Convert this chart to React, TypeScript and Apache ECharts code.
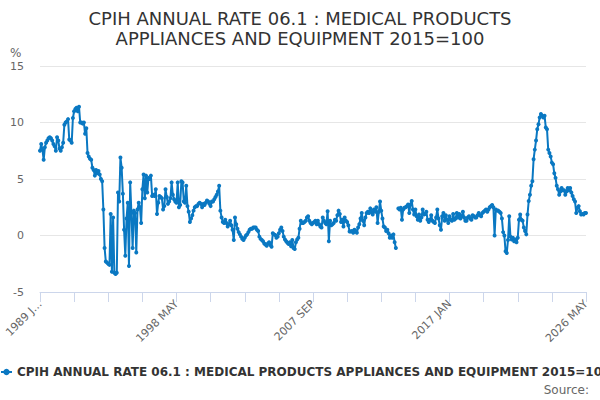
import React, { useEffect, useRef } from "react";
import * as echarts from "echarts";

const titleText = "CPIH ANNUAL RATE 06.1 : MEDICAL PRODUCTS\nAPPLIANCES AND EQUIPMENT 2015=100";
const seriesName = "CPIH ANNUAL RATE 06.1 : MEDICAL PRODUCTS APPLIANCES AND EQUIPMENT 2015=100";
const monthNames = ["JAN", "FEB", "MAR", "APR", "MAY", "JUN", "JUL", "AUG", "SEP", "OCT", "NOV", "DEC"];
const startYear = 1989;
const yTicks = { min: -5, max: 15, interval: 5 };

// monthly annual rate (%), Jan 1989 .. May 2026
const rateValues: (number | null)[] = [
  7.5, 8.1, 7.6, 6.7, 7.8, 8.2, 8.4, 8.6, 8.7, 8.6, 8.4, 8.1,
  7.9, 7.5, 8.7, 8.4, 7.7, 7.5, 7.8, 8.2, 9.8, 10.0, 10.1, 10.3,
  8.5, 8.4, 8.2, 10.4, 11.0, 11.2, 11.3, 11.0, 11.4, 10.0, 10.0, 9.9,
  10.0, 9.0, 9.5, 7.3, 7.0, 6.8, 6.7, 6.0, 5.8, 5.3, 5.8, 5.5,
  5.7, 5.4, 5.0, 4.8, 2.3, -1.1, -2.3, -2.4, -2.5, -2.6, 1.9, -3.2,
  1.6, -3.3, -3.4, -3.3, 3.8, 3.0, 6.9, 6.0, 3.7, 0.5, -1.8, 1.5,
  2.9, -2.7, 4.7, 2.0, -1.1, 2.2, 2.0, -1.5, 2.3, 2.9, 2.5, 1.1,
  4.1, 5.4, 3.3, 5.3, 3.8, 5.1, 5.0, 5.3, 3.5, 3.6, 3.5, 4.1,
  1.9, 2.9, 3.5, 3.4, 3.3, 2.3, 2.6, 4.1, 3.4, 2.8, 3.0, 3.3,
  4.7, 3.6, 3.2, 3.0, 2.9, 4.7, 2.5, 2.7, 4.8, 4.7, 3.0, 2.9,
  4.4, 2.6, 2.1, 1.2, 1.5, 1.8, 2.2, 2.5, 2.6, 2.6, 2.8, 2.9,
  2.8, 2.5, 2.8, 2.7, 2.9, 3.1, 3.0, 2.8, 2.6, 3.0, 3.0, 3.2,
  3.4, 3.6, 3.9, 4.4, 2.2, 1.6, 1.2, 1.1, 1.4, 1.1, 0.8, 1.0,
  1.3, 0.9, 0.5, -0.4, 1.6, 1.0, 0.6, 0.3, 0.1, -0.1, -0.3, -0.4,
  -0.2, 0.0, 0.1, 0.3, 0.5, 0.6, 0.6, 0.7, 0.7, 0.7, 0.5, 0.4,
  -0.1, -0.3, -0.4, -0.5, -0.7, -0.8, -0.9, -0.7, -0.6, -0.85, -1.0, 0.2,
  0.1, 0.05, -0.2, -0.1, 0.2, 0.5, 0.7, 0.4, -0.1, -0.35, -0.5, -0.65,
  -0.75, -0.6, -0.95, -0.4, -1.1, -1.2, -0.6, -0.35, -0.2, 0.6, 1.3, 1.1,
  1.1, 1.2, 1.3, 1.6, 1.7, 1.3, 1.1, 1.0, 1.1, 1.2, 1.3, 1.0,
  1.3, 1.0, 0.8, 0.7, 1.6, 1.3, 1.1, 1.0, 2.15, -0.5, 1.3, 0.9,
  1.0, 1.1, 1.4, 1.3, 1.8, 2.2, 1.9, 1.2, 1.4, 0.8, 1.6, 1.3,
  1.2, 0.9, 0.35, 0.35, 0.4, 0.25, 0.5, 0.4, 0.25, 0.7, 1.0, 1.5,
  2.0, 1.3, 0.9, 1.6, 2.0, 2.1, 2.0, 2.4, 2.1, 1.85, 2.3, 2.1,
  2.5, 1.1, 2.1, 3.0, 2.2, 1.5, 0.8, 0.7, 0.4, 0.5, 0.2, -0.2,
  0.0, -0.2, 0.1, -0.6, -1.1, null, 2.4, 2.3, 2.45, 1.4, 2.3, 2.45,
  2.5, 2.6, 2.75, 2.0, 2.75, 3.05, 2.3, 1.85, 2.3, 1.7, 1.4, 1.85,
  1.3, 1.6, 2.3, 1.85, 1.9, 2.1, 1.4, 1.2, 1.4, 1.8, 1.3, 1.2,
  1.1, 1.6, 2.3, 1.5, 0.9, 0.5, 1.7, 2.0, 1.3, 1.8, 1.4, 1.1,
  1.7, 1.4, 1.3, 1.9, 1.4, 1.5, 2.0, 1.6, 1.9, 1.5, 1.7, 2.1,
  1.6, 1.3, 1.3, 1.6, 1.7, 1.5, 1.4, 1.8, 1.7, 1.6, 1.6, 1.8,
  2.0, 1.8, 1.7, 2.0, 2.1, 2.2, 2.3, 2.1, 2.3, 2.5, 2.6, 2.7,
  2.5, 0.0, 2.3, 2.2, 2.2, 2.1, 2.0, 1.5, 0.3, 0.0, -1.4, -1.55,
  -0.4, 1.7, -0.1, -0.35, -0.2, -0.5, -0.35, -0.6, -0.2, 1.4, 1.85, 1.4,
  1.3, 0.7, 0.4, 0.1, 1.85, 3.05, 3.6, 4.4, 4.8, 6.75, 7.6, 8.4,
  9.4, 9.85, 10.45, 10.75, 10.6, 10.45, 10.6, 9.55, 9.4, 7.6, 7.3, 7.0,
  6.45, 6.3, 5.5, 5.1, 4.4, 4.1, 3.6, 3.9, 4.2, 4.0, 4.0, 3.6,
  3.9, 4.2, 4.0, 4.2, 3.8, 3.5, 3.2, 3.0, 2.0, 2.45, 2.6, 2.15,
  1.85, 1.9, 1.85, 2.0, 2.0,
];

const categories: string[] = rateValues.map(
  (_, i) => `${startYear + Math.floor(i / 12)} ${monthNames[i % 12]}`
);

const FONT = "DejaVu Sans";
const BLUE = "#0a78c2";

export default function App() {
  const ref = useRef<HTMLDivElement>(null);

  useEffect(() => {
    document.body.style.margin = "0";
    if (!ref.current) return;
    const chart = echarts.init(ref.current, undefined, { renderer: "svg" });
    chart.setOption({
      animation: false,
      textStyle: { fontFamily: FONT },
      title: {
        text: titleText,
        left: "center",
        top: 3,
        textStyle: {
          fontFamily: FONT,
          fontSize: 18,
          fontWeight: "normal",
          color: "#333333",
          lineHeight: 20,
        },
      },
      legend: {
        data: [seriesName],
        left: 0,
        top: 366,
        padding: 0,
        itemWidth: 11,
        itemHeight: 8,
        textStyle: { fontFamily: FONT, fontSize: 12, fontWeight: "bold", color: "#333333" },
      },
      grid: { left: 40, right: 14, top: 66, bottom: 108, containLabel: false },
      xAxis: {
        type: "category",
        data: categories,
        boundaryGap: false,
        axisLine: { onZero: false, lineStyle: { color: "#ccd6eb", width: 1 } },
        axisTick: { show: true, interval: 27, length: 10, lineStyle: { color: "#ccd6eb" } },
        axisLabel: {
          interval: 111,
          rotate: 45,
          margin: 10,
          color: "#666666",
          fontSize: 11,
          fontFamily: FONT,
          formatter: (v: string, idx: number) => (idx === 0 ? v.slice(0, 6) + "…" : v),
        },
        splitLine: { show: false },
      },
      yAxis: {
        type: "value",
        min: yTicks.min,
        max: yTicks.max,
        interval: yTicks.interval,
        axisLine: { show: false },
        axisTick: { show: false },
        axisLabel: { color: "#666666", fontSize: 11, margin: 16, fontFamily: FONT },
        splitLine: { lineStyle: { color: "#e6e6e6", width: 1 } },
      },
      graphic: [
        {
          type: "text",
          left: 10,
          top: 47,
          style: { text: "%", fill: "#666666", fontSize: 12, fontFamily: FONT },
        },
        {
          type: "text",
          right: 11,
          top: 384,
          style: { text: "Source:", fill: "#666666", fontSize: 12, fontFamily: FONT },
        },
      ],
      series: [
        {
          name: seriesName,
          type: "line",
          data: rateValues,
          connectNulls: false,
          symbol: "circle",
          symbolSize: 4,
          showSymbol: true,
          showAllSymbol: true,
          itemStyle: { color: BLUE },
          lineStyle: { color: BLUE, width: 2 },
        },
      ],
    });
    return () => chart.dispose();
  }, []);

  return <div ref={ref} style={{ width: 600, height: 400 }} />;
}
